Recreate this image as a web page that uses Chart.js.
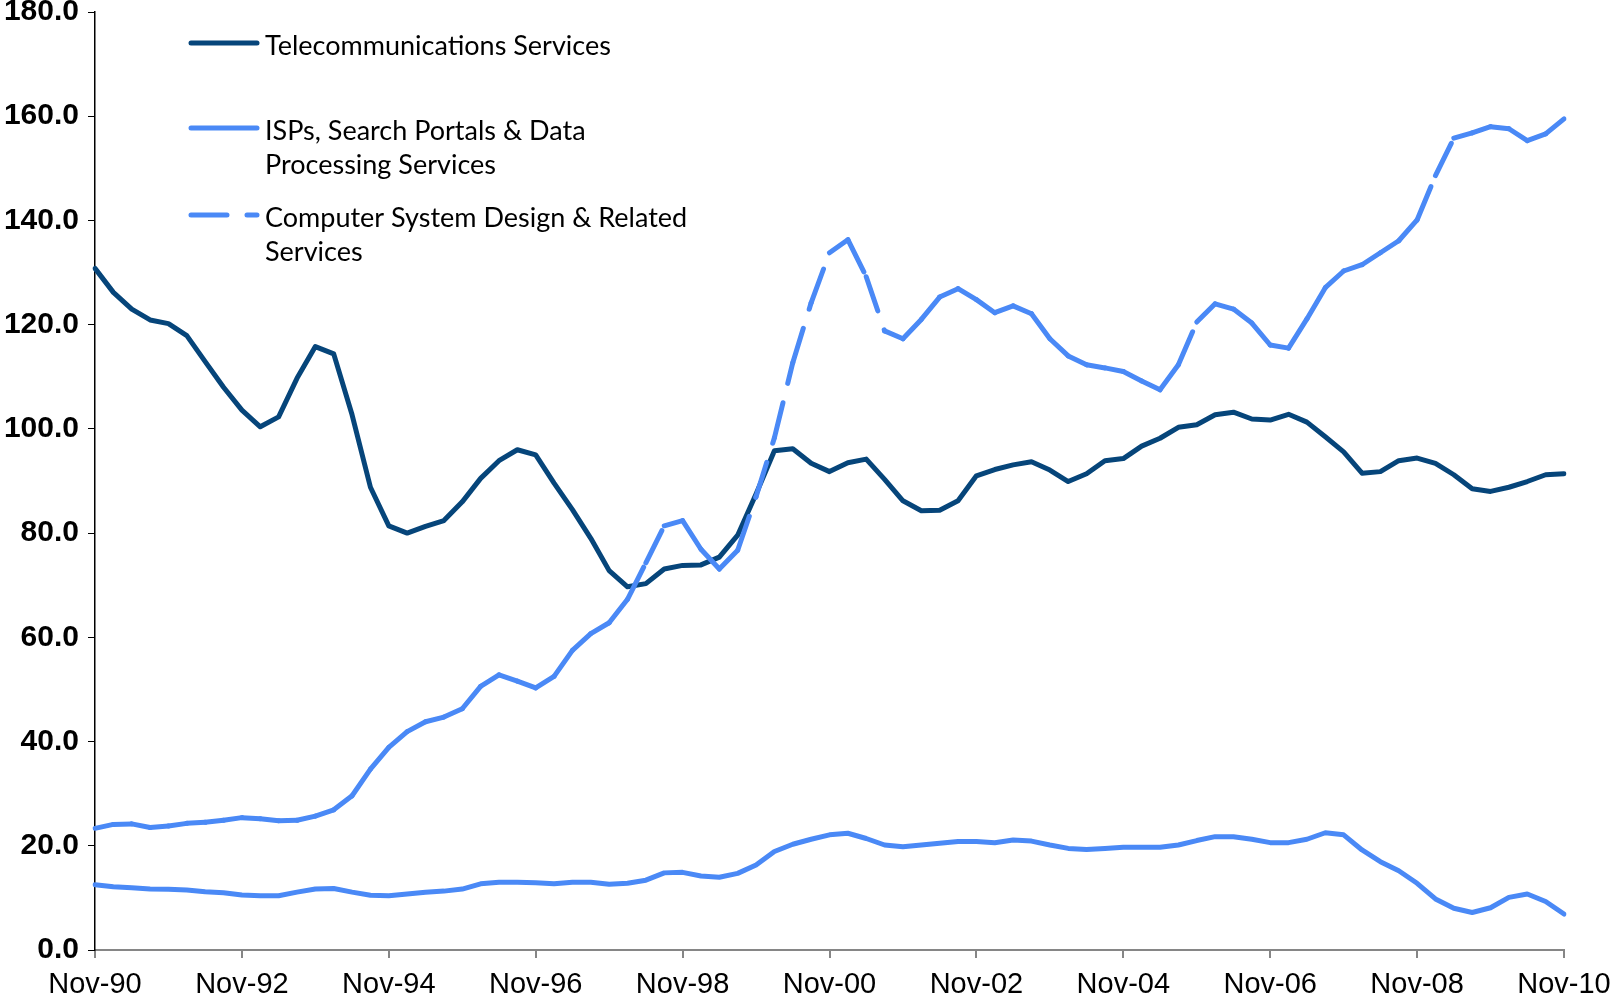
<!DOCTYPE html>
<html>
<head>
<meta charset="utf-8">
<title>Employment index by industry</title>
<script src="https://cdn.jsdelivr.net/npm/chart.js@4.4.1/dist/chart.umd.min.js"></script>
<style>
  html, body { margin: 0; padding: 0; background: #fff; }
  #wrap { width: 1610px; height: 1000px; }
</style>
</head>
<body>
<div id="wrap"><canvas id="chart" width="1610" height="1000"></canvas></div>
<script>
// quarterly categories, Nov-90 through Nov-10
const quarterMonths = ['Nov', 'Feb', 'May', 'Aug'];
const categories = [];
for (let i = 0; i <= 80; i++) {
    const year = (1990 + Math.floor((i + 3) / 4)) % 100;
    categories.push(quarterMonths[i % 4] + '-' + String(year).padStart(2, '0'));
}

const telecom = [
    130.8, 126.2, 123.0, 120.9, 120.2, 117.9, 112.9, 108.0, 103.6, 100.4,
    102.3, 109.7, 115.8, 114.4, 102.7, 88.8, 81.4, 80.0, 81.3, 82.4,
    86.0, 90.5, 93.9, 96.0, 95.0, 89.6, 84.5, 79.0, 72.8, 69.7,
    70.3, 73.1, 73.8, 73.9, 75.4, 79.6, 87.5, 95.8, 96.2, 93.4,
    91.8, 93.5, 94.2, 90.3, 86.2, 84.3, 84.4, 86.2, 91.0, 92.2,
    93.1, 93.7, 92.1, 89.9, 91.4, 93.9, 94.3, 96.7, 98.2, 100.3,
    100.8, 102.7, 103.2, 101.9, 101.7, 102.8, 101.3, 98.5, 95.6, 91.5,
    91.8, 93.9, 94.4, 93.4, 91.2, 88.5, 88.0, 88.8, 89.9, 91.2,
    91.4
];

const ispPortals = [
    12.5, 12.15, 11.95, 11.7, 11.65, 11.5, 11.2, 11.0, 10.55, 10.4,
    10.4, 11.1, 11.7, 11.8, 11.1, 10.5, 10.4, 10.75, 11.1, 11.3,
    11.7, 12.7, 13.0, 13.0, 12.9, 12.7, 13.0, 13.0, 12.6, 12.8,
    13.4, 14.8, 14.9, 14.2, 13.95, 14.7, 16.3, 18.9, 20.3, 21.25,
    22.1, 22.4, 21.4, 20.15, 19.8, 20.15, 20.5, 20.8, 20.8, 20.6,
    21.1, 20.9, 20.15, 19.5, 19.3, 19.5, 19.7, 19.7, 19.7, 20.15,
    21.0, 21.75, 21.75, 21.25, 20.6, 20.6, 21.25, 22.5, 22.1, 19.2,
    16.95, 15.2, 12.8, 9.8, 8.0, 7.2, 8.1, 10.1, 10.75, 9.3,
    6.9
];

const compDesign = [
    23.35, 24.1, 24.2, 23.5, 23.8, 24.3, 24.5, 24.9, 25.4, 25.2,
    24.8, 24.9, 25.7, 26.9, 29.6, 34.7, 38.9, 41.9, 43.8, 44.7,
    46.3, 50.6, 52.8, 51.6, 50.3, 52.5, 57.5, 60.7, 62.8, 67.3,
    74.3, 81.4, 82.4, 76.9, 73.1, 76.7, 87.0, 98.3, 112.7, 124.2,
    133.8, 136.3, 129.2, 118.8, 117.3, 121.0, 125.3, 126.9, 124.8, 122.3,
    123.6, 122.1, 117.3, 114.0, 112.3, 111.7, 111.0, 109.2, 107.5, 112.3,
    120.5, 124.0, 123.0, 120.3, 116.1, 115.5, 121.1, 127.1, 130.3, 131.5,
    133.8, 136.1, 140.1, 148.6, 155.8, 156.8, 158.0, 157.6, 155.3, 156.6,
    159.5
];

// legend text, already wrapped the way it is shown
const legendText = [
    ['Telecommunications Services'],
    ['ISPs, Search Portals & Data', 'Processing Services'],
    ['Computer System Design & Related', 'Services']
];

const NAVY = '#06457a';
const SKY = '#4a89f6';
const LONG_DASH = [36, 20];

// legend drawn inside the plot, top left
const inlineLegend = {
    id: 'inlineLegend',
    afterDraw(chart) {
        const ctx = chart.ctx;
        const rowY = [43, 128, 215];
        ctx.save();
        ctx.font = '27px Lato';
        ctx.fillStyle = '#000';
        ctx.textBaseline = 'alphabetic';
        chart.data.datasets.forEach(function (ds, i) {
            const y = rowY[i];
            ctx.beginPath();
            ctx.lineWidth = ds.borderWidth;
            ctx.strokeStyle = ds.borderColor;
            ctx.lineCap = 'round';
            ctx.setLineDash(ds.borderDash || []);
            ctx.moveTo(191, y);
            ctx.lineTo(257, y);
            ctx.stroke();
            ctx.setLineDash([]);
            legendText[i].forEach(function (t, k) {
                ctx.fillText(t, 265, y + 12 + k * 34);
            });
        });
        ctx.restore();
    }
};

const ctx = document.getElementById('chart').getContext('2d');
new Chart(ctx, {
    type: 'line',
    data: {
        labels: categories,
        datasets: [
            {
                label: 'Telecommunications Services',
                data: telecom,
                borderColor: NAVY,
                borderWidth: 5,
                order: 3
            },
            {
                label: 'ISPs, Search Portals & Data Processing Services',
                data: ispPortals,
                borderColor: SKY,
                borderWidth: 5,
                order: 2
            },
            {
                label: 'Computer System Design & Related Services',
                data: compDesign,
                borderColor: SKY,
                borderWidth: 5,
                borderDash: LONG_DASH,
                order: 1,
                // every segment is stroked on its own so the dash restarts at each point
                segment: {
                    borderDash: () => LONG_DASH,
                    borderDashOffset: c => (c.p0DataIndex % 2 ? 0.01 : 0)
                }
            }
        ]
    },
    options: {
        responsive: false,
        animation: false,
        events: [],
        elements: {
            point: { radius: 0 },
            line: { tension: 0, borderCapStyle: 'round', borderJoinStyle: 'round', fill: false }
        },
        layout: { padding: { top: 0, right: 0, bottom: 0, left: 0 } },
        plugins: {
            legend: { display: false },
            tooltip: { enabled: false }
        },
        scales: {
            x: {
                type: 'category',
                offset: false,
                grid: {
                    drawOnChartArea: false,
                    drawTicks: true,
                    tickLength: 8,
                    color: '#868686',
                    lineWidth: 2
                },
                border: { display: true, color: '#868686', width: 2 },
                ticks: {
                    autoSkip: false,
                    maxRotation: 0,
                    minRotation: 0,
                    padding: 10,
                    color: '#000',
                    font: { family: 'Liberation Sans', size: 29 },
                    callback: function (value, index) {
                        return index % 8 === 0 ? this.getLabelForValue(value) : null;
                    }
                },
                afterFit(scale) {
                    scale.height = 50;
                    scale.paddingRight = 46;
                }
            },
            y: {
                min: 0,
                max: 180,
                grid: {
                    drawOnChartArea: false,
                    drawTicks: true,
                    tickLength: 7,
                    color: '#000',
                    lineWidth: 1
                },
                border: { display: true, color: '#000', width: 1.5 },
                ticks: {
                    stepSize: 20,
                    padding: 9,
                    color: '#000',
                    font: { family: 'Liberation Sans', size: 30, weight: 'bold' },
                    callback: v => v.toFixed(1)
                },
                afterFit(scale) {
                    scale.width = 95;
                    scale.paddingTop = 12;
                }
            }
        }
    },
    plugins: [inlineLegend]
});
</script>
</body>
</html>
